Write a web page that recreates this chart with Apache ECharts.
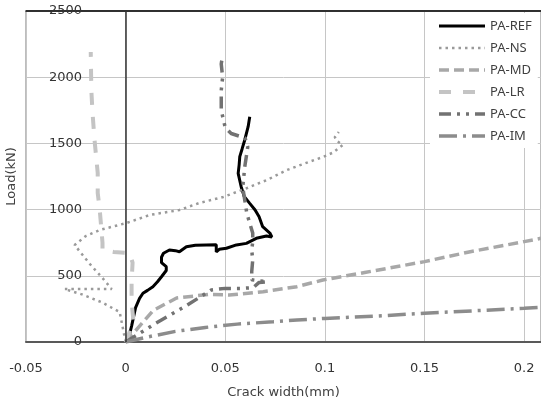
<!DOCTYPE html>
<html>
<head>
<meta charset="utf-8">
<script src="https://cdn.jsdelivr.net/npm/echarts@6/dist/echarts.min.js"></script>
<style>
html, body { margin: 0; padding: 0; background: #fff; }
#crackChart { width: 541px; height: 401px; }
</style>
</head>
<body>
<div id="crackChart"></div>
<script>
// crack width (mm), load (kN)
var seriesNames = ['PA-REF', 'PA-NS', 'PA-MD', 'PA-LR', 'PA-CC', 'PA-IM'];

var refPts = [[0,0],[0.002,60],[0.003,120],[0.004,190],[0.005,260],[0.007,330],[0.0087,368],[0.011,390],[0.0137,418],
	[0.016,455],[0.018,493],[0.0204,540],[0.0204,569],[0.018,600],[0.018,640],[0.019,670],[0.022,695],[0.025,690],
	[0.027,682],[0.0305,720],[0.035,730],[0.0405,733],[0.0455,735],[0.0464,720],[0.0455,680],[0.047,700],[0.0506,708],
	[0.0556,733],[0.0606,745],[0.0656,783],[0.0707,800],[0.0734,793],[0.0724,823],[0.0688,871],[0.067,946],[0.065,997],
	[0.0623,1047],[0.0595,1100],[0.058,1173],[0.0565,1274],[0.057,1340],[0.0573,1400],[0.0585,1460],[0.0598,1526],
	[0.0615,1626],[0.0623,1702]];

var nsPts = [[0,0],[-0.003,227],[-0.012,300],[-0.022,360],[-0.0307,400],[-0.02,400],[-0.007,400],[-0.012,490],
	[-0.018,590],[-0.0256,733],[-0.02,800],[-0.013,846],[0.0005,899],[0.012,959],[0.027,997],[0.037,1050],[0.049,1095],
	[0.061,1163],[0.071,1224],[0.081,1299],[0.092,1360],[0.099,1397],[0.104,1430],[0.109,1488],[0.106,1520],
	[0.105,1548],[0.107,1586]];

var mdPts = [[0,0],[0.007,120],[0.014,240],[0.0256,332],[0.042,360],[0.052,355],[0.069,380],[0.086,418],[0.099,468],
	[0.12,525],[0.15,607],[0.173,682],[0.2,758],[0.2085,783]];

var lrPts = [[0,0],[0.004,150],[0.003,300],[0.003,450],[0.0035,600],[0.002,672],[-0.006,680],[-0.0116,695],
	[-0.0116,750],[-0.013,1000],[-0.014,1125],[-0.014,1276],[-0.0156,1526],[-0.0166,1730],[-0.0172,1900],
	[-0.0175,2190]];

var ccPts = [[0,0],[0.015,140],[0.03,270],[0.043,393],[0.05,405],[0.058,405],[0.064,410],[0.067,450],[0.071,455],
	[0.0633,470],[0.0633,529],[0.0638,619],[0.0633,695],[0.0638,755],[0.0638,823],[0.0608,974],[0.0588,1170],
	[0.0598,1322],[0.0613,1473],[0.06,1540],[0.053,1575],[0.05,1620],[0.048,1750],[0.048,1900],[0.0487,2000],
	[0.048,2100],[0.0487,2170]];

var imPts = [[0,0],[0.01,35],[0.025,80],[0.04,110],[0.056,135],[0.074,153],[0.086,166],[0.1,178],[0.125,195],
	[0.15,217],[0.175,236],[0.2,254],[0.2085,262]];

var xTicks = [-0.05, 0, 0.05, 0.1, 0.15, 0.2];

crackChart();

function lineSeries(name, pts, color, width, dash){
	return {
		name: name,
		type: 'line',
		data: pts,
		symbol: 'none',
		smooth: false,
		lineStyle: {
			color: color,
			width: width,
			type: dash,
			cap: 'butt'
		},
		itemStyle: { color: color }
	};
}

function crackChart(){
	var dom = document.getElementById("crackChart");
	var myChart = echarts.init(dom, null, { renderer: 'canvas' });
	var option = null;
	var ref = lineSeries('PA-REF', refPts, '#000000', 3, 'solid');
	// vertical axis line at x = 0
	ref.markLine = {
		silent: true,
		symbol: 'none',
		label: { show: false },
		lineStyle: { color: '#333', width: 1.5, type: 'solid' },
		data: [{ xAxis: 0 }]
	};
	option = {
		animation: false,
		backgroundColor: '#fff',
		grid: {
			left: 26,
			right: 0,
			top: 11,
			bottom: 59,
			containLabel: false,
			outerBoundsMode: 'none',
			show: true,
			borderColor: '#7a7a7a',
			borderWidth: 1
		},
		legend: {
			orient: 'vertical',
			left: 430,
			top: 13,
			padding: [5, 6, 4, 7],
			backgroundColor: '#fff',
			itemWidth: 46,
			itemHeight: 4,
			itemGap: 6,
			data: seriesNames,
			itemStyle: { opacity: 0 },
			lineStyle: { width: 'inherit', type: 'inherit' },
			textStyle: {
				fontFamily: 'Noto Sans',
				fontSize: 13,
				lineHeight: 16,
				color: '#404040'
			}
		},
		xAxis: [{
			type: 'value',
			min: -0.05,
			max: 0.2085,
			interval: 0.05,
			name: 'Crack width(mm)',
			nameLocation: 'middle',
			nameGap: 44,
			nameTextStyle: { fontFamily: 'DejaVu Sans', fontSize: 13, color: '#404040' },
			axisLine: { onZero: false, lineStyle: { color: '#595959', width: 2 } },
			axisTick: { show: false },
			axisLabel: {
				margin: 20,
				fontFamily: 'DejaVu Sans',
				fontSize: 13,
				color: '#333',
				formatter: function (v) {
					for (var i = 0; i < xTicks.length; i++) {
						if (Math.abs(v - xTicks[i]) < 1e-6) return String(xTicks[i]);
					}
					return '';
				}
			},
			splitLine: { show: true, lineStyle: { color: '#c6c6c6', width: 1 } }
		}, {
			type: 'value',
			position: 'top',
			min: -0.05,
			max: 0.2085,
			axisLine: { onZero: false, lineStyle: { color: '#000', width: 1.5 } },
			axisTick: { show: false },
			axisLabel: { show: false },
			splitLine: { show: false }
		}],
		yAxis: {
			type: 'value',
			min: 0,
			max: 2500,
			interval: 500,
			name: 'Load(kN)',
			nameLocation: 'middle',
			nameGap: 5,
			nameTextStyle: { fontFamily: 'DejaVu Sans', fontSize: 13, color: '#404040' },
			axisLine: { show: false, onZero: false },
			axisTick: { show: false },
			axisLabel: {
				margin: -56,
				align: 'right',
				fontFamily: 'DejaVu Sans',
				fontSize: 13,
				color: '#333',
				formatter: function (v) { return String(v); }
			},
			splitLine: { show: true, lineStyle: { color: '#c6c6c6', width: 1 } }
		},
		series: [
			ref,
			lineSeries('PA-NS', nsPts, '#9a9a9a', 2.5, [2.5, 4]),
			lineSeries('PA-MD', mdPts, '#a8a8a8', 3.5, [10, 5]),
			lineSeries('PA-LR', lrPts, '#c4c4c4', 4, [12, 12]),
			lineSeries('PA-CC', ccPts, '#727272', 3.5, [12, 6, 3, 6, 3, 6]),
			lineSeries('PA-IM', imPts, '#8c8c8c', 3.5, [18, 6, 3, 6])
		]
	};
	if (option && typeof option === "object") {
		myChart.setOption(option, true);
	}
}
</script>
</body>
</html>
